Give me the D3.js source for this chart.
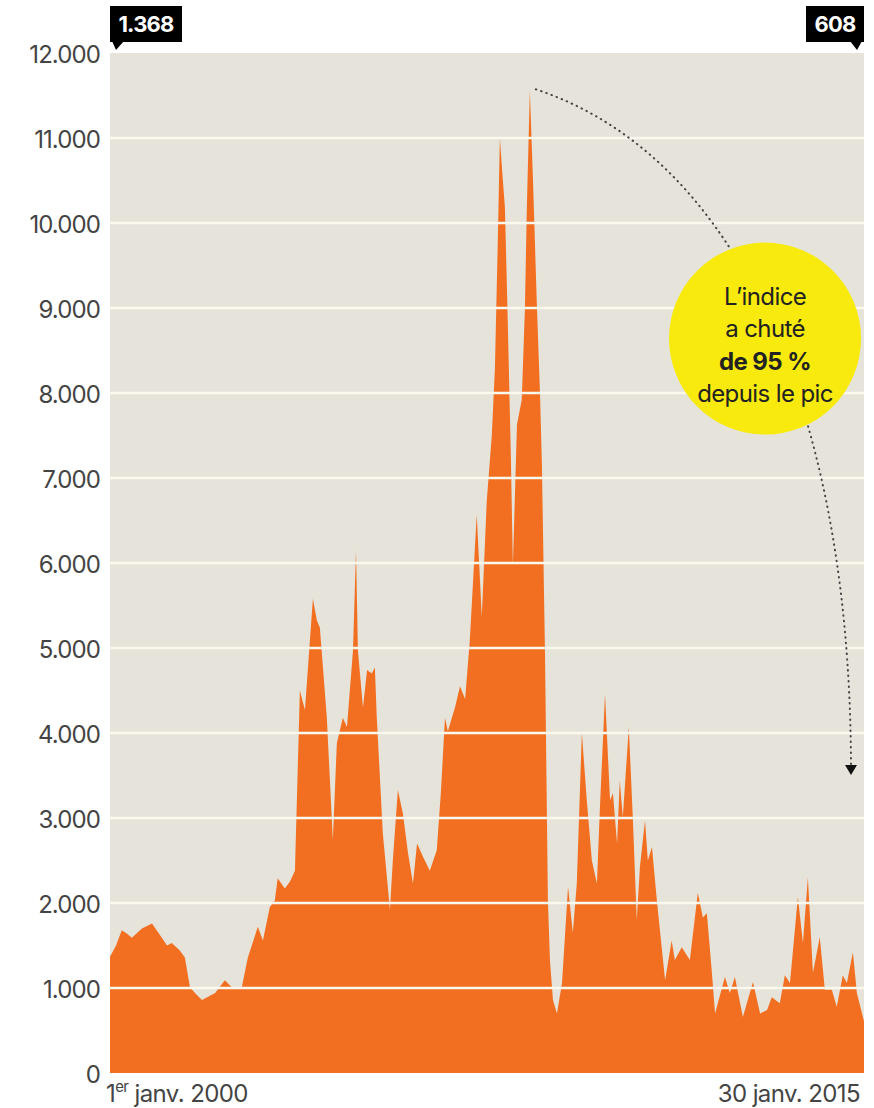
<!DOCTYPE html>
<html>
<head>
<meta charset="utf-8">
<script src="https://cdn.jsdelivr.net/npm/d3@7"></script>
<style>
  body { margin: 0; background: #fff; }
  svg text { font-family: Inter, "Open Sans", sans-serif; }
</style>
</head>
<body>
<div id="chart"></div>
<script>
// Baltic Dry Index, 1er janv. 2000 - 30 janv. 2015
var dates = ["2000-01-01","2000-02-14","2000-03-27","2000-05-03","2000-06-09","2000-08-21","2000-11-03",
  "2001-01-01","2001-02-21","2001-03-27","2001-05-25","2001-07-01","2001-08-07","2001-09-20","2001-11-03",
  "2002-02-07","2002-04-19","2002-06-09","2002-08-21","2002-10-04","2002-12-16",
  "2003-01-22","2003-03-13","2003-04-19","2003-05-10","2003-07-01","2003-08-07","2003-09-13","2003-10-19","2003-11-25",
  "2004-01-22","2004-02-21","2004-03-13","2004-05-03","2004-06-16","2004-07-15","2004-08-28","2004-09-27","2004-11-10","2004-12-02","2004-12-16",
  "2005-01-22","2005-02-21","2005-03-27","2005-04-19","2005-05-03","2005-06-16","2005-08-07","2005-08-28","2005-10-04","2005-11-10","2005-12-16",
  "2006-01-22","2006-02-21","2006-04-04","2006-05-25","2006-07-15","2006-08-14","2006-09-13","2006-10-04","2006-11-25",
  "2007-01-01","2007-02-07","2007-03-13","2007-05-03","2007-06-09","2007-07-15","2007-08-21","2007-09-13","2007-10-04","2007-10-19","2007-11-10","2007-11-25","2007-12-16",
  "2008-01-08","2008-01-22","2008-02-21","2008-03-27","2008-04-19","2008-05-03","2008-05-25","2008-06-16","2008-07-15","2008-08-07","2008-08-21","2008-09-13","2008-10-04","2008-10-19","2008-11-10","2008-12-09",
  "2009-01-15","2009-02-28","2009-04-04","2009-05-03","2009-06-09","2009-07-15","2009-08-21","2009-09-27","2009-10-19","2009-11-25",
  "2010-01-01","2010-01-22","2010-02-21","2010-03-13","2010-04-04","2010-05-18","2010-06-16","2010-07-15","2010-08-07","2010-09-13","2010-10-04","2010-11-03","2010-12-09",
  "2011-02-07","2011-03-27","2011-04-19","2011-06-09","2011-08-07","2011-10-04","2011-11-10","2011-12-09",
  "2012-01-15","2012-02-07","2012-04-19","2012-05-25","2012-07-01","2012-08-28","2012-11-10",
  "2013-01-01","2013-02-21","2013-03-27","2013-05-25","2013-07-01","2013-08-07","2013-10-04","2013-11-10","2013-12-16",
  "2014-01-22","2014-03-13","2014-04-19","2014-06-09","2014-07-15","2014-08-28","2014-09-27","2014-11-10","2014-12-09",
  "2015-01-30"];
var values = [1368,1500,1680,1640,1590,1700,1760,
  1620,1500,1530,1440,1360,1010,930,860,
  940,1090,1010,1010,1360,1720,
  1560,1950,2030,2290,2170,2250,2380,4500,4270,
  5580,5320,5240,4180,2740,3880,4180,4070,4970,6150,4970,
  4300,4740,4700,4770,4180,2820,1920,2500,3330,3050,2600,
  2230,2700,2550,2380,2620,3300,4180,4020,4300,
  4550,4400,5080,6570,5370,6720,7500,8300,9800,11000,10500,10180,8820,
  7200,5970,7630,7920,9000,10180,11560,10550,9050,8000,7170,4900,2030,1320,860,700,
  1060,2190,1650,2230,4000,3210,2500,2230,3130,4460,
  3210,3290,2700,3440,3010,4070,3010,1800,2420,2970,2500,2660,2030,
  1090,1560,1330,1480,1330,2120,1830,1880,
  1180,700,1130,940,1130,660,1070,
  700,740,890,820,1150,1060,2070,1530,2300,
  1180,1600,980,980,780,1150,1060,1420,940,
  608];
var yTicks = [0,1000,2000,3000,4000,5000,6000,7000,8000,9000,10000,11000,12000];
var startLabel = "janv. 2000";
var endLabel = "30 janv. 2015";
var noteLines = ["L\u2019indice", "a chuté", "de 95 %", "depuis le pic"];

var margin = {top: 53, right: 10, bottom: 35, left: 110};
var width = 874 - margin.left - margin.right;
var height = 1108 - margin.top - margin.bottom;

var parseDate = d3.timeParse("%Y-%m-%d");
var data = dates.map(function(d, i) { return {date: parseDate(d), value: values[i]}; });

var fr = d3.formatLocale({decimal: ",", thousands: ".", grouping: [3], currency: ["", " €"]});
var fmt = fr.format(",");

var svg = d3.select("#chart").append("svg")
  .attr("width", 874)
  .attr("height", 1108);

var g = svg.append("g")
  .attr("transform", "translate(" + margin.left + "," + margin.top + ")");

var x = d3.scaleTime()
  .domain([data[0].date, data[data.length - 1].date])
  .range([0, width]);
var y = d3.scaleLinear().domain([0, 12000]).range([height, 0]);

g.append("rect")
  .attr("width", width)
  .attr("height", height)
  .attr("fill", "#e6e4da");

var area = d3.area()
  .x(function(d) { return x(d.date); })
  .y0(height)
  .y1(function(d) { return y(d.value); });

g.append("path")
  .datum(data)
  .attr("d", area)
  .attr("fill", "#f26f21");

// white gridlines over the area
g.selectAll(".grid")
  .data(yTicks.filter(function(t) { return t > 0 && t < 12000; }))
  .enter().append("line")
  .attr("x1", 0)
  .attr("x2", width)
  .attr("y1", function(d) { return y(d); })
  .attr("y2", function(d) { return y(d); })
  .attr("stroke", "#fbf8ee")
  .attr("stroke-width", 2.5);

// y axis labels
var yAxis = g.append("g")
  .call(d3.axisLeft(y).tickValues(yTicks).tickFormat(fmt).tickSize(0).tickPadding(10));
yAxis.select(".domain").remove();
yAxis.selectAll("text")
  .attr("fill", "#444")
  .style("font-size", "24px")
  .style("letter-spacing", "-0.9px")
  .attr("dy", "0.4em");

// date labels
var st = g.append("text")
  .attr("x", -4)
  .attr("y", height + 29)
  .attr("fill", "#444")
  .style("font-size", "24px")
  .style("letter-spacing", "-0.6px");
st.append("tspan").text("1");
st.append("tspan").text("er").attr("dy", -10).style("font-size", "15px");
st.append("tspan").text(" " + startLabel).attr("dy", 10);

g.append("text")
  .attr("x", width - 4)
  .attr("y", height + 29)
  .attr("text-anchor", "end")
  .attr("fill", "#444")
  .style("font-size", "24px")
  .style("letter-spacing", "-0.6px")
  .text(endLabel);

// black value tags
function tag(d, side) {
  var px = x(d.date);
  var w = side == "left" ? 72 : 58;
  var x0 = side == "left" ? px : px - w;
  var t = g.append("g");
  t.append("rect")
    .attr("x", x0).attr("y", -47)
    .attr("width", w).attr("height", 36)
    .attr("fill", "#000");
  var tip = side == "left" ? [[px + 2, -12], [px + 14, -12], [px + 6, -3]]
                           : [[px - 14, -12], [px - 2, -12], [px - 7, -3]];
  t.append("path")
    .attr("d", d3.line()(tip) + "Z")
    .attr("fill", "#000");
  t.append("text")
    .attr("x", x0 + w / 2)
    .attr("y", -21)
    .attr("text-anchor", "middle")
    .attr("fill", "#fff")
    .style("font-size", "22px")
    .style("font-weight", "bold")
    .style("letter-spacing", "-0.8px")
    .text(fmt(d.value));
}
tag(data[0], "left");
tag(data[data.length - 1], "right");

// dotted arrow from peak
var peak = data.reduce(function(a, b) { return b.value > a.value ? b : a; });
var last = data[data.length - 1];
var p0 = [x(peak.date) + 6, y(peak.value) - 1];
var p3 = [x(last.date) - 13, y(3600)];
var arc = d3.path();
arc.moveTo(p0[0], p0[1]);
arc.bezierCurveTo(p0[0] + 184, p0[1] + 60, p3[0] - 1, p0[1] + 290, p3[0], p3[1]);
g.append("path")
  .attr("d", arc.toString())
  .attr("fill", "none")
  .attr("stroke", "#444")
  .attr("stroke-width", 2)
  .attr("stroke-linecap", "round")
  .attr("stroke-dasharray", "0.5,5");
g.append("path")
  .attr("d", d3.line()([[p3[0] - 6, p3[1] - 2], [p3[0] + 6, p3[1] - 2], [p3[0], p3[1] + 8]]) + "Z")
  .attr("fill", "#111");

// yellow note
var cx = x(parseDate("2013-02-06")), cy = y(8640);
g.append("circle")
  .attr("cx", cx).attr("cy", cy).attr("r", 96)
  .attr("fill", "#f7ea0c");
g.selectAll(".note")
  .data(noteLines)
  .enter().append("text")
  .attr("x", cx)
  .attr("y", function(d, i) { return cy - 34 + i * 32.5; })
  .attr("text-anchor", "middle")
  .attr("fill", "#222")
  .style("font-size", "24px")
  .style("font-weight", function(d, i) { return i == 2 ? "bold" : "normal"; })
  .style("letter-spacing", "-0.6px")
  .text(function(d) { return d; });
</script>
</body>
</html>
